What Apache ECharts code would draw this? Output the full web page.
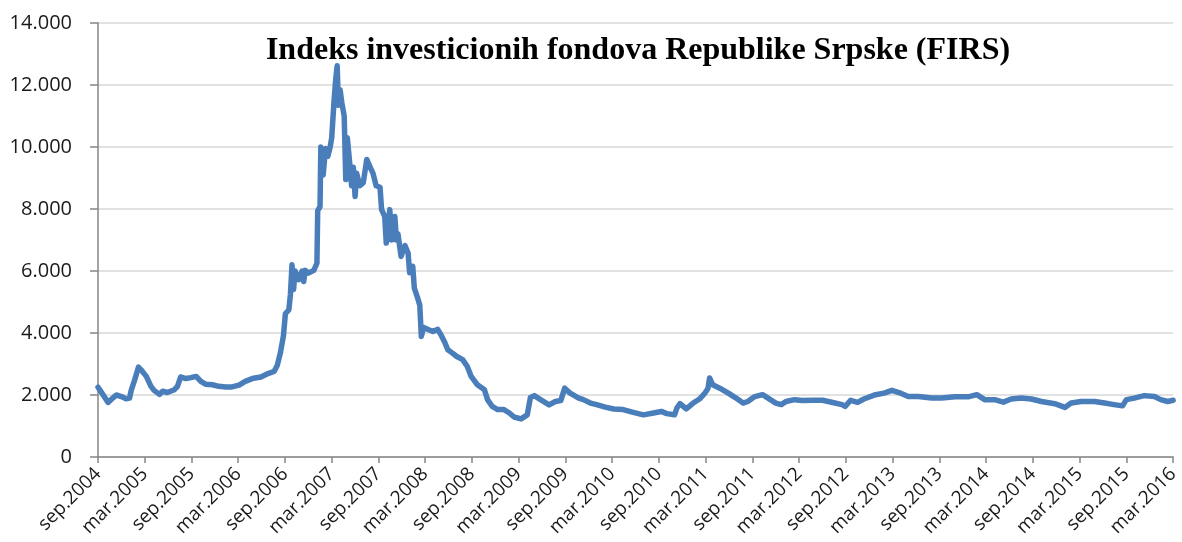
<!DOCTYPE html>
<html>
<head>
<meta charset="utf-8">
<script src="https://cdn.jsdelivr.net/npm/echarts@6/dist/echarts.min.js"></script>
<style>
html,body{margin:0;padding:0;background:#fff;}
#chart{width:1182px;height:542px;}
</style>
</head>
<body>
<div id="chart"></div>
<script>
// Month offsets counted from sep.2004 (0) to mar.2016 (138)
var monthsSinceSep2004 = [
  0, 0.4, 1.3, 1.9, 2.35, 3.0, 3.6, 4.05, 4.26, 4.7, 5.2, 5.5, 6.2, 6.8, 7.2, 7.9, 8.3, 8.9, 9.8, 10.2,
  10.6, 11.3, 11.9, 12.6, 13.2, 13.8, 14.7, 15.5, 16.4, 17.2, 18.1, 18.9, 19.8, 20.9, 21.9, 22.6, 23.0, 23.4, 23.8, 24.05,
  24.5, 24.7, 24.9, 25.1, 25.3, 25.75, 26.2, 26.4, 26.6, 27.0, 27.7, 28.1, 28.2, 28.5, 28.6, 28.9, 29.2, 29.5, 29.8, 30.0,
  30.3, 30.5, 30.7, 30.85, 31.07, 31.3, 31.6, 31.8, 32.0, 32.35, 32.55, 32.77, 33.0, 33.2, 33.6, 34.05, 34.5, 34.9, 35.3, 35.7,
  36.2, 36.4, 36.8, 37.0, 37.45, 37.7, 38.1, 38.3, 38.5, 38.9, 39.4, 39.8, 40.0, 40.4, 40.6, 41.0, 41.3, 41.5, 41.8, 42.3,
  43.0, 43.6, 44.0, 44.5, 44.9, 45.5, 46.0, 46.8, 47.4, 47.9, 48.7, 49.6, 50.0, 50.6, 51.3, 52.1, 52.8, 53.4, 54.3, 55.1,
  55.5, 56.0, 56.8, 57.9, 58.7, 59.4, 59.9, 60.6, 61.7, 62.3, 63.2, 64.0, 65.1, 66.2, 67.4, 68.7, 70.0, 71.3, 72.3, 73.0,
  74.0, 74.3, 74.7, 75.5, 76.4, 77.2, 77.9, 78.3, 78.5, 78.9, 79.8, 80.9, 81.9, 82.8, 83.4, 84.3, 85.3, 86.0, 87.0, 87.7,
  88.3, 89.4, 90.4, 91.7, 93.0, 94.3, 95.5, 95.9, 96.6, 97.5, 98.3, 99.8, 100.9, 101.9, 102.8, 104.0, 105.3, 107.0, 108.3, 110.0,
  111.7, 112.8, 113.8, 115.1, 116.2, 117.2, 118.5, 119.8, 121.1, 122.8, 124.1, 124.9, 126.2, 127.9, 129.2, 130.4, 131.5, 132.0, 133.0, 134.3,
  135.6, 136.4, 137.3, 138.0
];
var firsValues = [
  2250, 2100, 1760, 1900, 2000, 1950, 1880, 1900, 2150, 2480, 2900, 2820, 2600, 2280, 2150, 2020, 2120, 2080, 2170, 2280,
  2580, 2530, 2560, 2600, 2440, 2350, 2330, 2280, 2260, 2260, 2320, 2440, 2530, 2580, 2700, 2760, 2950, 3350, 3900, 4620,
  4750, 5250, 6200, 5400, 6000, 5720, 6000, 5660, 6020, 5930, 6020, 6250, 7950, 8080, 10000, 9100, 9950, 9700, 10000, 10300,
  11500, 12150, 12620, 11350, 11850, 11420, 11000, 8950, 10300, 9370, 8750, 9350, 8400, 9150, 8750, 8850, 9600, 9370, 9150, 8750,
  8700, 7980, 7760, 6900, 7980, 7000, 7760, 7000, 7200, 6470, 6820, 6580, 5940, 6150, 5450, 5150, 4900, 3890, 4180, 4120,
  4050, 4120, 3950, 3700, 3460, 3350, 3250, 3140, 2920, 2600, 2330, 2170, 1850, 1630, 1530, 1530, 1420, 1290, 1230, 1360,
  1920, 1980, 1850, 1680, 1790, 1820, 2220, 2060, 1900, 1850, 1740, 1690, 1610, 1550, 1530, 1440, 1360, 1420, 1470, 1400,
  1360, 1580, 1720, 1550, 1740, 1870, 2060, 2220, 2550, 2330, 2220, 2060, 1900, 1740, 1790, 1950, 2010, 1900, 1740, 1690,
  1790, 1850, 1820, 1830, 1830, 1760, 1690, 1630, 1830, 1760, 1870, 2010, 2060, 2150, 2080, 1950, 1950, 1900, 1900, 1940,
  1940, 2010, 1850, 1850, 1770, 1870, 1900, 1870, 1790, 1720, 1600, 1740, 1790, 1790, 1740, 1690, 1650, 1850, 1900, 1980,
  1950, 1850, 1790, 1830
];
var tickLabels = [
  'sep.2004','mar.2005','sep.2005','mar.2006','sep.2006','mar.2007','sep.2007','mar.2008',
  'sep.2008','mar.2009','sep.2009','mar.2010','sep.2010','mar.2011','sep.2011','mar.2012',
  'sep.2012','mar.2013','sep.2013','mar.2014','sep.2014','mar.2015','sep.2015','mar.2016'
];
var titleText = 'Indeks investicionih fondova Republike Srpske (FIRS)';

var seriesData = monthsSinceSep2004.map(function (m, i) { return [m, firsValues[i]]; });

var chart = echarts.init(document.getElementById('chart'), null, {renderer: 'canvas'});
chart.setOption({
  animation: false,
  backgroundColor: '#ffffff',
  title: {
    text: titleText,
    left: 633,
    textAlign: 'center',
    top: 30,
    textStyle: {fontFamily: 'Liberation Serif', fontWeight: 'bold', fontSize: 32, color: '#000'}
  },
  grid: {left: 98, right: 3, top: 23, bottom: 85, containLabel: false},
  xAxis: {
    type: 'value',
    min: 0,
    max: (tickLabels.length - 1) * 6,
    interval: 6,
    axisLine: {show: true, lineStyle: {color: '#868686', width: 1.5}},
    axisTick: {show: true, length: 6, lineStyle: {color: '#868686', width: 1.5}},
    splitLine: {show: false},
    axisLabel: {
      rotate: 45,
      margin: 14,
      fontFamily: 'Open Sans',
      fontSize: 19,
      color: '#1a1a1a',
      showMinLabel: true,
      showMaxLabel: true,
      formatter: function (v) { return tickLabels[Math.round(v / 6)] || ''; }
    }
  },
  yAxis: {
    type: 'value',
    min: 0,
    max: 14000,
    interval: 2000,
    axisLine: {show: true, lineStyle: {color: '#868686', width: 1.5}},
    axisTick: {show: true, length: 8, lineStyle: {color: '#868686', width: 1.5}},
    splitLine: {show: true, lineStyle: {color: '#d9d9d9', width: 1.5}},
    axisLabel: {
      margin: 26,
      fontFamily: 'Open Sans',
      fontSize: 20,
      color: '#1a1a1a',
      formatter: function (v) {
        if (v === 0) return '0';
        var s = String(v);
        return s.slice(0, s.length - 3) + '.' + s.slice(-3);
      }
    }
  },
  series: [{
    type: 'line',
    data: seriesData,
    showSymbol: false,
    symbol: 'none',
    smooth: false,
    lineStyle: {color: '#4a7ebb', width: 5.5, join: 'round', cap: 'round'},
    clip: false
  }]
});
</script>
</body>
</html>
